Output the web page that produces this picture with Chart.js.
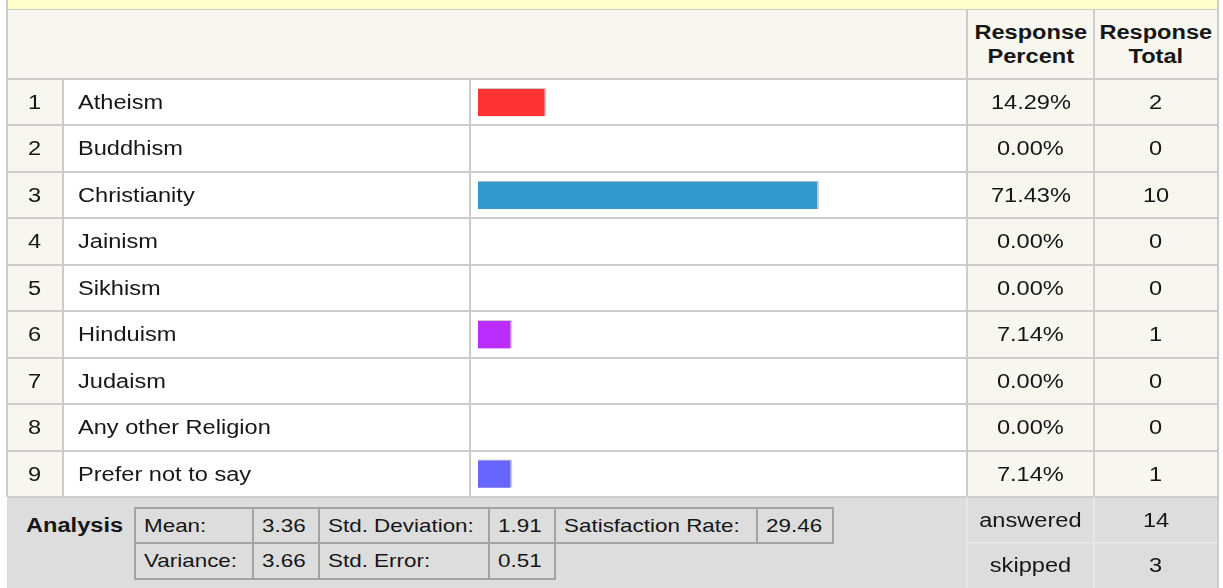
<!DOCTYPE html>
<html>
<head>
<meta charset="utf-8">
<script src="https://cdn.jsdelivr.net/npm/chart.js@4.4.0/dist/chart.umd.min.js"></script>
<style>
  html, body { margin: 0; padding: 0; background: #fff; }
  body {
    width: 1223px; height: 588px; position: relative; overflow: hidden;
    font-family: "Liberation Sans", Arial, sans-serif; font-size: 20px; color: #161616;
  }
  .box { position: absolute; box-sizing: border-box; }
  .cell { position: absolute; box-sizing: border-box; display: flex; align-items: center; white-space: nowrap; }
  .cell.c { justify-content: center; text-align: center; }
  .t { display: inline-block; transform: scaleX(1.18); transform-origin: left center; }
  .c .t { transform-origin: center center; }
  .b { font-weight: bold; }
  .sm { font-size: 19px; }
  #barWrap { position: absolute; left: 478px; top: 79px; width: 477px; height: 418px; }
</style>
</head>
<body>
<div id="barWrap"><canvas id="bars"></canvas></div>
<script>
const religions = ["Atheism", "Buddhism", "Christianity", "Jainism", "Sikhism",
                   "Hinduism", "Judaism", "Any other Religion", "Prefer not to say"];
const responsePercent = [14.29, 0, 71.43, 0, 0, 7.14, 0, 0, 7.14];
const responseTotal = [2, 0, 10, 0, 0, 1, 0, 0, 1];
const barColors = ["#ff3333", "#ff9933", "#3399cc", "#66cc33", "#ffcc00",
                   "#bb2cff", "#33cccc", "#999999", "#6666ff"];

const statLabelsTop = ["Mean:", "Std. Deviation:", "Satisfaction Rate:"];
const statValuesTop = [3.36, 1.91, 29.46];
const statLabelsBottom = ["Variance:", "Std. Error:"];
const statValuesBottom = [3.66, 0.51];
const answered = 14;
const skipped = 3;

const LINE = "#cccccc";
const CREAM = "#f7f7ef";
const GREY_BG = "#dddddd";

function box(x, y, w, h, style) {
  const d = document.createElement("div");
  d.className = "box";
  Object.assign(d.style, { left: x + "px", top: y + "px", width: w + "px", height: h + "px" }, style || {});
  document.body.appendChild(d);
  return d;
}

function text(x, y, w, h, html, cls, style) {
  const d = document.createElement("div");
  d.className = "cell " + (cls || "");
  Object.assign(d.style, { left: x + "px", top: y + "px", width: w + "px", height: h + "px" }, style || {});
  d.innerHTML = '<span class="t">' + html + "</span>";
  document.body.appendChild(d);
  return d;
}

// layout
const top0 = 79, bodyH = 418;
const rowH = bodyH / religions.length;
const rowTop = i => Math.round(top0 + i * rowH);

// header strip + header row
box(6, 0, 1213, 10, { background: "#ffffcc" });
box(6, 10, 1213, 69, { background: CREAM });
box(6, 9, 1213, 1, { background: LINE });

// body backgrounds
box(8, top0, 55, bodyH, { background: CREAM });
box(968, top0, 249, bodyH, { background: CREAM });

// bottom analysis area
box(7, 497, 960, 91, { background: GREY_BG });
box(967, 497, 250, 91, { background: GREY_BG });

// grid lines
box(6, 78, 1213, 2, { background: LINE });
for (let i = 1; i <= religions.length; i++) {
  box(8, rowTop(i) - 1, 1209, 2, { background: LINE });
}
box(6, 0, 2, 497, { background: LINE });
box(1217, 0, 2, 588, { background: LINE });
box(62, 79, 2, bodyH, { background: LINE });
box(469, 79, 2, bodyH, { background: LINE });
box(966, 10, 2, bodyH + 69, { background: LINE });
box(1093, 10, 2, 578, { background: "#cfcfcf" });
box(966, 497, 2, 91, { background: "#e6e6e6" });
box(967, 542, 250, 2, { background: "#e6e6e6" });
box(1093, 497, 2, 91, { background: "#e6e6e6" });

// header text
text(968, 10, 125, 68, "Response<br>Percent", "c b", { lineHeight: "24px" });
text(1095, 10, 122, 68, "Response<br>Total", "c b", { lineHeight: "24px" });

// rows
religions.forEach((name, i) => {
  const y = rowTop(i), h = rowTop(i + 1) - y;
  text(8, y, 54, h, String(i + 1), "c");
  text(78, y, 380, h, name);
  text(968, y, 125, h, responsePercent[i].toFixed(2) + "%", "c");
  text(1095, y, 122, h, String(responseTotal[i]), "c");
});

// analysis block
text(26, 508, 105, 35, "Analysis", "b");
const statEdges = [134, 252, 318, 488, 554, 756, 832];
const statRows = [507, 542, 578];
const border = "2px solid #a3a3a3";
function statCell(col, row, str) {
  const x = statEdges[col], w = statEdges[col + 1] - x + 2;
  const y = statRows[row], h = statRows[row + 1] - y + 2;
  box(x, y, w, h, { border: border });
  text(x + 10, y + 1, w - 12, h - 2, str, "sm");
}
statLabelsTop.forEach((lab, k) => {
  statCell(k * 2, 0, lab);
  statCell(k * 2 + 1, 0, statValuesTop[k].toFixed(2));
});
statLabelsBottom.forEach((lab, k) => {
  statCell(k * 2, 1, lab);
  statCell(k * 2 + 1, 1, statValuesBottom[k].toFixed(2));
});

text(968, 497, 125, 46, "answered", "c");
text(1095, 497, 122, 46, String(answered), "c");
text(968, 543, 125, 45, "skipped", "c");
text(1095, 543, 122, 45, String(skipped), "c");

// percentage bars
new Chart(document.getElementById("bars"), {
  type: "bar",
  data: {
    labels: religions,
    datasets: [{
      data: responsePercent,
      backgroundColor: barColors,
      borderColor: "#cccccc",
      borderWidth: { top: 1, right: 2, bottom: 0, left: 0 },
      borderSkipped: false,
      barThickness: 28
    }]
  },
  options: {
    indexAxis: "y",
    responsive: true,
    maintainAspectRatio: false,
    animation: false,
    layout: { padding: 0 },
    scales: {
      x: { type: "linear", min: 0, max: 100, display: false },
      y: { display: false }
    },
    plugins: { legend: { display: false }, tooltip: { enabled: false } }
  }
});
</script>
</body>
</html>
